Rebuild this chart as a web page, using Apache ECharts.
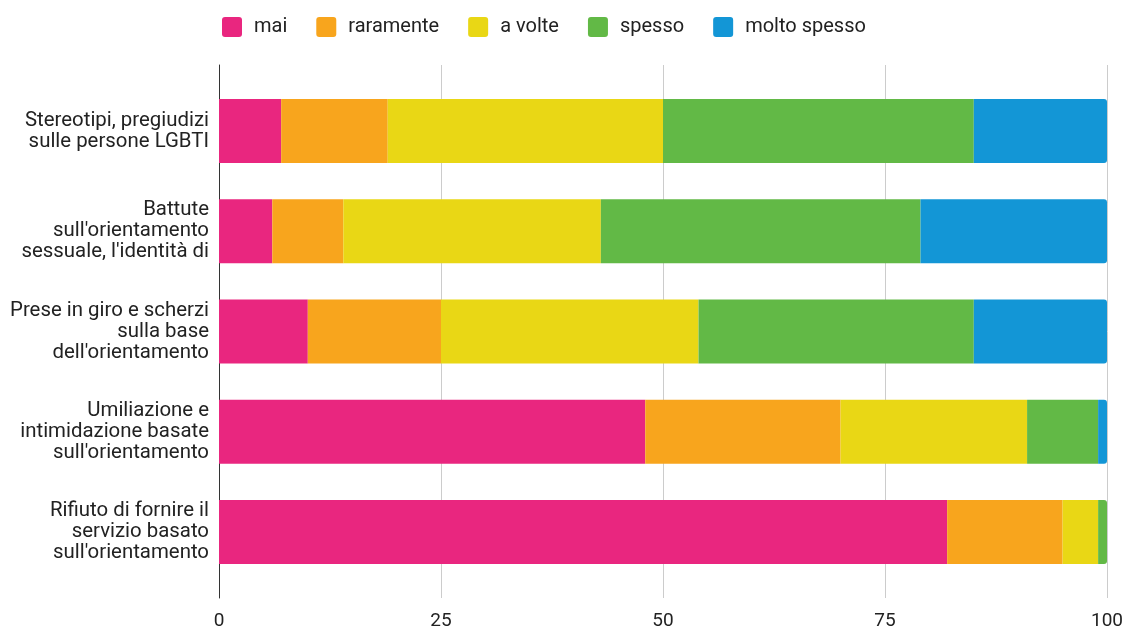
<!DOCTYPE html>
<html><head><meta charset="utf-8">
<script src="https://cdn.jsdelivr.net/npm/echarts@6/dist/echarts.min.js"></script>
<style>html,body{margin:0;padding:0;background:#fff}#c{width:1126px;height:631px}</style>
</head><body><div id="c"></div>
<script>
const categories = [
  "Stereotipi, pregiudizi\nsulle persone LGBTI",
  "Battute\nsull'orientamento\nsessuale, l'identità di",
  "Prese in giro e scherzi\nsulla base\ndell'orientamento",
  "Umiliazione e\nintimidazione basate\nsull'orientamento",
  "Rifiuto di fornire il\nservizio basato\nsull'orientamento"
];
const seriesNames = ["mai", "raramente", "a volte", "spesso", "molto spesso"];
const mai = [7, 6, 10, 48, 82];
const raramente = [12, 8, 15, 22, 13];
const aVolte = [31, 29, 29, 21, 4];
const spesso = [35, 36, 31, 8, 1];
const moltoSpesso = [15, 21, 15, 1, 0];
const tickValues = [0, 25, 50, 75, 100];
const colors = ["#E9267F", "#F8A51D", "#E9D715", "#62B946", "#1396D6"];

const values = [mai, raramente, aVolte, spesso, moltoSpesso];
const font = "Roboto";
// index of the last non-zero segment in each row
const lastIdx = categories.map((_, r) => {
  let k = 0;
  values.forEach((arr, i) => { if (arr[r] > 0) k = i; });
  return k;
});
const series = seriesNames.map((n, i) => ({
  name: n, type: 'bar', stack: 'total', xAxisIndex: 1, yAxisIndex: 1,
  data: values[i].map((v, r) => lastIdx[r] === i
    ? { value: v, itemStyle: { borderRadius: [0, 3, 3, 0] } }
    : v),
  barWidth: 64,
  itemStyle: { color: colors[i] },
  emphasis: { disabled: true }
}));
const iconPath = 'path://M3,0 H17 A3,3 0 0 1 20,3 V17 A3,3 0 0 1 17,20 H3 A3,3 0 0 1 0,17 V3 A3,3 0 0 1 3,0 Z';
const chart = echarts.init(document.getElementById('c'), null, { renderer: 'canvas' });
chart.setOption({
  animation: false,
  color: colors,
  legend: {
    top: 12, left: 217, itemWidth: 20, itemHeight: 20, itemGap: 29,
    icon: iconPath,
    textStyle: { fontFamily: font, fontSize: 20, color: '#222', padding: [0, 0, 0, 7] },
    data: seriesNames
  },
  grid: [
    { left: 219, right: 19, top: 65, bottom: 33 },
    { left: 219, right: 19, top: 81, bottom: 49 }
  ],
  xAxis: [
    { type: 'value', gridIndex: 0, min: 0, max: 100, interval: 25,
      axisLine: { show: false }, axisTick: { show: false },
      axisLabel: { fontFamily: font, fontSize: 19, color: '#222', margin: 14,
        formatter: v => tickValues.includes(v) ? String(v) : '' },
      splitLine: { show: true, lineStyle: { color: '#CCCCCC', width: 1 } } },
    { type: 'value', gridIndex: 1, min: 0, max: 100, show: false, splitLine: { show: false } }
  ],
  yAxis: [
    { type: 'category', gridIndex: 0, data: [''], axisLine: { show: true, lineStyle: { color: '#333', width: 1 } },
      axisTick: { show: false }, axisLabel: { show: false } },
    { type: 'category', gridIndex: 1, data: categories, inverse: true,
      axisLine: { show: false }, axisTick: { show: false },
      axisLabel: { fontFamily: font, fontSize: 20.4, color: '#222', lineHeight: 21, margin: 10, align: 'right' } }
  ],
  series: series
});
</script></body></html>
